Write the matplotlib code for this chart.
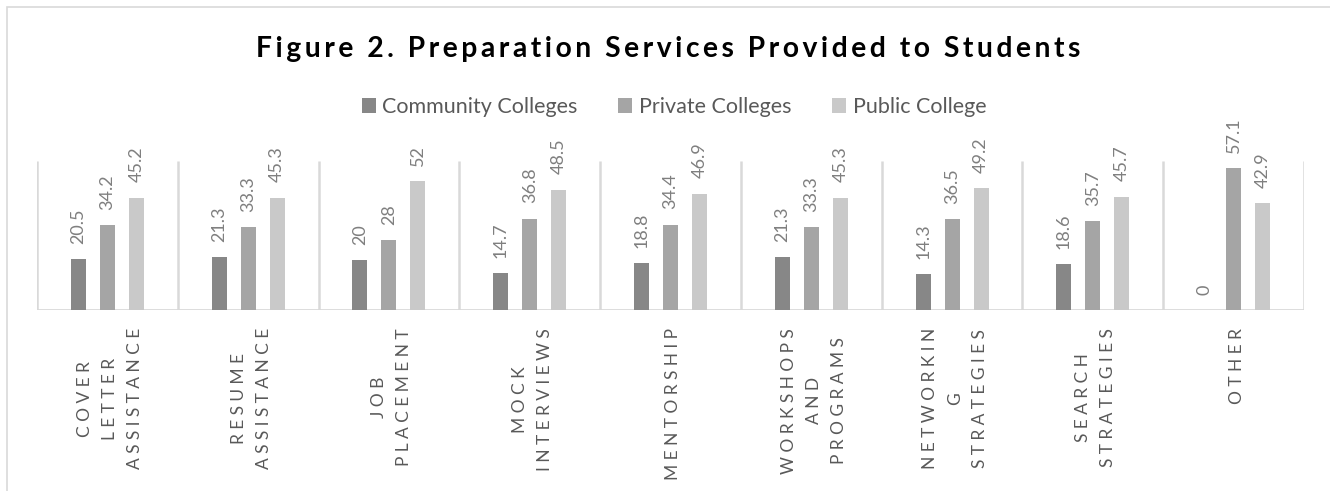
import matplotlib.pyplot as plt
import matplotlib.patches as mpatches
import matplotlib.transforms as mtransforms
import numpy as np

plt.rcParams['font.family'] = ['Lato', 'DejaVu Sans']

categories = ["COVER\nLETTER\nASSISTANCE", "RESUME\nASSISTANCE", "JOB\nPLACEMENT",
              "MOCK\nINTERVIEWS", "MENTORSHIP", "WORKSHOPS\nAND\nPROGRAMS",
              "NETWORKIN\nG\nSTRATEGIES", "SEARCH\nSTRATEGIES", "OTHER"]
community = [20.5, 21.3, 20, 14.7, 18.8, 21.3, 14.3, 18.6, 0]
private = [34.2, 33.3, 28, 36.8, 34.4, 33.3, 36.5, 35.7, 57.1]
public = [45.2, 45.3, 52, 48.5, 46.9, 45.3, 49.2, 45.7, 42.9]
series_names = ["Community Colleges", "Private Colleges", "Public College"]
colors = ["#878787", "#a5a5a5", "#c9c9c9"]


def spaced(s, gap="\u2009"):
    # fake letter spacing with narrow spaces
    return "\n".join(gap.join(line) for line in s.split("\n"))


fig = plt.figure(figsize=(13.3, 4.91), dpi=100)
ax = fig.add_axes([37 / 1330, 1 - 310 / 491, (1304 - 37) / 1330, (310 - 161) / 491])

# chart area border (only left and top edges fall inside the image)
fig.patches.append(mpatches.Rectangle((7 / 1330, -0.1), 1.2, 1.1 - 7 / 491,
                                      transform=fig.transFigure, fill=False,
                                      edgecolor="#d9d9d9", lw=1.2, zorder=0))

x = np.arange(len(categories))
w = 0.107
step = 0.206
for i, (vals, name, c) in enumerate(zip([community, private, public], series_names, colors)):
    pos = x + (i - 1) * step
    ax.bar(pos, vals, w, color=c, label=name, zorder=2)
    for p, v in zip(pos, vals):
        ax.annotate(f"{v:g}", (p, v), xytext=(0, 11), textcoords="offset points",
                    rotation=90, ha="center", va="bottom", fontsize=13, color="#7f7f7f")

ax.set_xlim(-0.5, len(categories) - 0.5)
ax.set_ylim(0, 60)
ax.vlines(np.arange(len(categories) + 1) - 0.5, 0, 60, color="#d9d9d9", lw=1.8, zorder=1)
ax.axhline(0, color="#d9d9d9", lw=2, zorder=1)
for s in ax.spines.values():
    s.set_visible(False)
ax.set_yticks([])
ax.set_xticks(x)
ax.set_xticklabels([spaced(c, "\u2005") for c in categories], rotation=90, ha="center", va="top",
                   multialignment="center", fontsize=12.5, color="#595959", linespacing=1.7)
ax.tick_params(axis="x", length=0, pad=13)
# nudge the rotated labels a little to the right
shift = mtransforms.ScaledTranslation(3 / 100, 0, fig.dpi_scale_trans)
for lbl in ax.get_xticklabels():
    lbl.set_transform(lbl.get_transform() + shift)

fig.text(668 / 1330, 1 - 57 / 491, spaced("Figure 2. Preparation Services Provided to Students"),
         ha="center", va="baseline", fontsize=20.3, fontweight="bold", color="#000000")

fig.legend(loc="center", bbox_to_anchor=(674 / 1330, 1 - 107 / 491), ncol=3, frameon=False,
           fontsize=15.5, labelcolor="#595959", handlelength=0.65, handleheight=0.65,
           handletextpad=0.3, columnspacing=1.9)

fig.savefig("out.png", dpi=100)
